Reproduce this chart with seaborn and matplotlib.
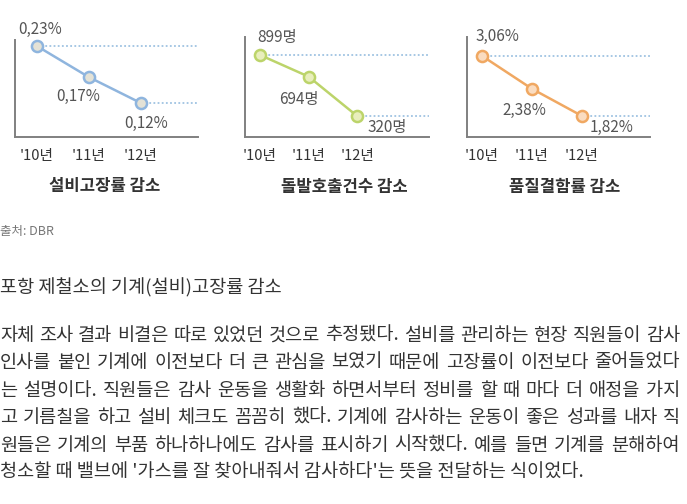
import numpy as np
import pandas as pd
import seaborn as sns
import matplotlib
matplotlib.use('Agg')
import matplotlib.pylab as plt

#-----------------------------
# data
years = ["'10년", "'11년", "'12년"]
breakdown_rate = [0.23, 0.17, 0.12]      # 설비고장률 (%)
emergency_calls = [899, 694, 320]        # 돌발호출건수 (명)
defect_rate = [3.06, 2.38, 1.82]         # 품질결함률 (%)
chart_titles = ["설비고장률 감소", "돌발호출건수 감소", "품질결함률 감소"]
source = "출처: DBR"
heading = "포항 제철소의 기계(설비)고장률 감소"
body_lines = [
    "자체 조사 결과 비결은 따로 있었던 것으로 추정됐다. 설비를 관리하는 현장 직원들이 감사",
    "인사를 붙인 기계에 이전보다 더 큰 관심을 보였기 때문에 고장률이 이전보다 줄어들었다",
    "는 설명이다. 직원들은 감사 운동을 생활화 하면서부터 정비를 할 때 마다 더 애정을 가지",
    "고 기름칠을 하고 설비 체크도 꼼꼼히 했다. 기계에 감사하는 운동이 좋은 성과를 내자 직",
    "원들은 기계의 부품 하나하나에도 감사를 표시하기 시작했다. 예를 들면 기계를 분해하여",
    "청소할 때 밸브에 '가스를 잘 찾아내줘서 감사하다'는 뜻을 전달하는 식이었다.",
]

def fmt_pct(v):
    return "{:.2f}%".format(v).replace('.', ',')

def fmt_cnt(v):
    return "{}명".format(v)

#-----------------------------
# layout (pixels, offsets: +x right, +y down)
W, H = 687, 504
charts = [
    dict(vals=breakdown_rate, fmt=fmt_pct, color='#8fb5de', face='#e4e2d6',
         box=(15, 40, 198, 137), xlim=(-0.42, 3.10), ylim=(0.0544, 0.2416),
         offs=[(3, -17), (-11, 19), (5, 20)], title_xy=(105, 186)),
    dict(vals=emergency_calls, fmt=fmt_cnt, color='#bcd46a', face='#e8eebc',
         box=(245, 37, 429, 137), xlim=(-0.31, 3.48), ylim=(121, 1070),
         offs=[(17, -18), (-10, 23), (30, 11)], title_xy=(344, 187)),
    dict(vals=defect_rate, fmt=fmt_pct, color='#f0a862', face='#fadcc0',
         box=(467, 37, 650, 137), xlim=(-0.30, 3.36), ylim=(1.386, 3.45),
         offs=[(15, -19), (-8, 22), (30, 11)], title_xy=(565, 187)),
]

sns.set_style('white')
plt.rcParams['font.family'] = ['Noto Sans CJK KR', 'DejaVu Sans']

fig = plt.figure(figsize=(W / 100, H / 100), dpi=100)

for c, title in zip(charts, chart_titles):
    l, t, r, b = c['box']
    ax = fig.add_axes([l / W, 1 - b / H, (r - l) / W, (b - t) / H])
    df = pd.DataFrame({'year': years, 'value': c['vals']})
    xs = np.arange(len(years))
    df['x'] = xs
    # dotted guide lines for first and last value
    ax.hlines(df['value'].iloc[0], xs[0], c['xlim'][1], colors='#9fc3e2',
              linestyles=(0, (1, 1.3)), linewidth=1.3, clip_on=False, zorder=1)
    ax.hlines(df['value'].iloc[-1], xs[-1], c['xlim'][1], colors='#9fc3e2',
              linestyles=(0, (1, 1.3)), linewidth=1.3, clip_on=False, zorder=1)
    sns.lineplot(data=df, x='x', y='value', ax=ax, color=c['color'], linewidth=1.8,
                 marker='o', markersize=8, markerfacecolor=c['face'],
                 markeredgecolor=c['color'], markeredgewidth=1.8, zorder=3,
                 clip_on=False)
    for (xv, v), (dx, dy) in zip(zip(xs, c['vals']), c['offs']):
        ax.annotate(c['fmt'](v), (xv, v), xytext=(dx, -dy), textcoords='offset pixels',
                    ha='center', va='center', fontsize=11, color='#555555')
    ax.set_xlim(*c['xlim'])
    ax.set_ylim(*c['ylim'])
    ax.set_xticks(xs)
    ax.set_xticklabels(years, fontsize=10.5, color='#333333')
    ax.set_yticks([])
    ax.tick_params(axis='x', length=0, pad=9)
    ax.set_xlabel('')
    ax.set_ylabel('')
    ax.patch.set_alpha(0)
    for s in ['top', 'right']:
        ax.spines[s].set_visible(False)
    for s in ['left', 'bottom']:
        ax.spines[s].set_color('#808080')
        ax.spines[s].set_linewidth(1.4)
    fig.text(c['title_xy'][0] / W, 1 - c['title_xy'][1] / H, title,
             ha='center', va='center', fontsize=12, fontweight='bold', color='#333333')

#-----------------------------
# article text
fig.text(0, 1 - 232 / H, source, ha='left', va='center', fontsize=9, color='#777777')
fig.text(0, 1 - 288 / H, heading, ha='left', va='center', fontsize=13.4, color='#333333')

line_ys = [336, 363, 391, 418, 446, 473]
right_edge = 680
body_size = 13.4
fig.canvas.draw()
renderer = fig.canvas.get_renderer()
for i, (y, line) in enumerate(zip(line_ys, body_lines)):
    if i == len(body_lines) - 1:
        fig.text(0, 1 - y / H, line, ha='left', va='center', fontsize=body_size, color='#333333')
        continue
    words = line.split(' ')
    texts = [fig.text(0, 1 - y / H, w, ha='left', va='center', fontsize=body_size,
                      color='#333333') for w in words]
    widths = [t.get_window_extent(renderer).width for t in texts]
    gap = (right_edge - sum(widths)) / (len(words) - 1)
    x = 0
    for t, w in zip(texts, widths):
        t.set_x(x / W)
        x += w + gap

fig.savefig('out.png', dpi=100, facecolor='white')
